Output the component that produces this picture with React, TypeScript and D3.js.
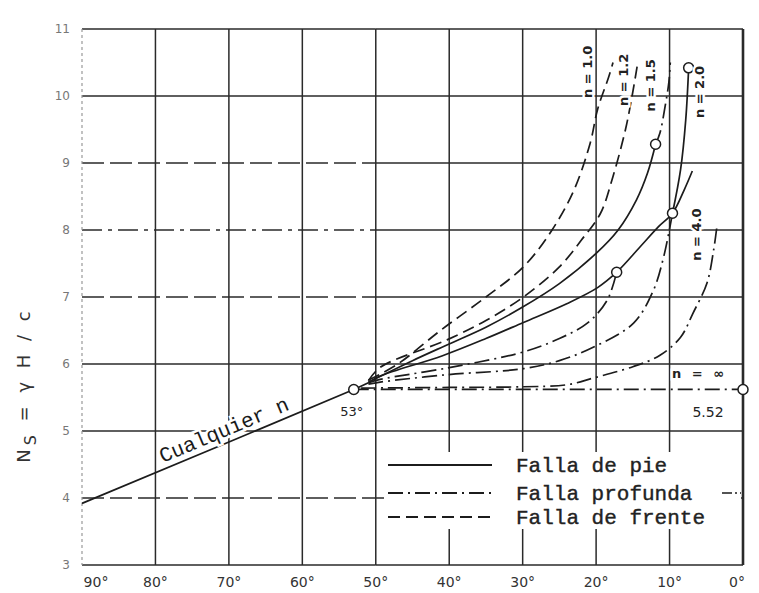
import React from "react";
import * as d3 from "d3";

type P = [number, number];

// axes
const betaTicks = [90, 80, 70, 60, 50, 40, 30, 20, 10, 0];
const nsTicks = [3, 4, 5, 6, 7, 8, 9, 10, 11];

// curves: [beta (deg), Ns]
const anyN: P[] = [[90, 3.92], [53, 5.62], [51, 5.72]];
const nInfBase: P[] = [[53, 5.62], [0, 5.62]];
const n4Base: P[] = [[52, 5.64], [40, 5.65], [30, 5.66], [24, 5.69], [20.4, 5.79], [15, 5.96], [11.3, 6.13], [8.5, 6.4], [6.8, 6.76], [4.9, 7.21], [4.0, 7.7], [3.5, 8.1]];
const n2Base: P[] = [[51, 5.7], [49.4, 5.73], [40.3, 5.84], [29.9, 5.93], [25, 6.05], [20.4, 6.25], [14.9, 6.61], [12.2, 7.1], [10.8, 7.6], [9.6, 8.25]];
const n1Base: P[] = [[51, 5.72], [49.4, 5.77], [40.3, 5.94], [29.9, 6.18], [25, 6.38], [21.2, 6.61], [18.5, 6.95], [17.2, 7.37]];
const toeMain: P[] = [[51, 5.72], [49.4, 5.82], [41, 6.12], [35, 6.38], [29.9, 6.62], [24, 6.9], [19.8, 7.14], [17.2, 7.37], [14, 7.75], [11.5, 8.05], [9.6, 8.25], [8, 8.6], [6.9, 8.88]];
const n2Toe: P[] = [[7.4, 10.42], [7.8, 9.64], [8.5, 8.9], [9.6, 8.25]];
const n15Toe: P[] = [[51, 5.73], [45, 6.05], [40, 6.3], [35, 6.55], [30, 6.85], [25, 7.2], [20, 7.65], [17, 8.0], [14.5, 8.45], [13, 8.85], [11.9, 9.28]];
const n15Base: P[] = [[11.9, 9.28], [11.3, 9.45], [10.6, 9.85], [10.1, 10.2], [9.9, 10.5]];
const n10Face: P[] = [[51, 5.76], [47, 6.0], [41.2, 6.5], [35, 7.0], [29.9, 7.45], [26, 8.0], [23, 8.6], [20.8, 9.3], [19.8, 9.8], [18.3, 10.28], [17.7, 10.5]];
const n12Face: P[] = [[51, 5.75], [49.4, 5.95], [40.3, 6.36], [35, 6.65], [29.9, 7.0], [25, 7.45], [22, 7.85], [19.4, 8.25], [17.7, 8.8], [16, 9.5], [15.1, 10.0], [14.4, 10.45]];
const markers: P[] = [[53, 5.62], [0, 5.62], [11.9, 9.28], [7.4, 10.42], [9.6, 8.25], [17.2, 7.37]];

const nLabels = ["n = 1.0", "n = 1.2", "n = 1.5", "n = 2.0", "n = 4.0"];
const nLabelPos: P[] = [[21.2, 10.36], [16.4, 10.24], [12.6, 10.16], [6.0, 10.06], [6.4, 7.93]];

const legendNames = ["Falla de pie", "Falla profunda", "Falla de frente"];

const W = 759, H = 593;
const x = d3.scaleLinear().domain([90, 0]).range([82, 743]);
const y = d3.scaleLinear().domain([3, 11]).range([565, 29]);

const DASH = { solid: undefined as string | undefined, dashdot: "15,5,2,5", dashed: "12,6" };
const INK = "#1c1c1c";

const line = d3.line<P>().x(d => x(d[0])).y(d => y(d[1])).curve(d3.curveCatmullRom.alpha(0.5));

const curves: { pts: P[]; kind: keyof typeof DASH }[] = [
  { pts: anyN, kind: "solid" },
  { pts: nInfBase, kind: "dashdot" },
  { pts: n4Base, kind: "dashdot" },
  { pts: n2Base, kind: "dashdot" },
  { pts: n1Base, kind: "dashdot" },
  { pts: toeMain, kind: "solid" },
  { pts: n2Toe, kind: "solid" },
  { pts: n15Toe, kind: "solid" },
  { pts: n15Base, kind: "dashdot" },
  { pts: n10Face, kind: "dashed" },
  { pts: n12Face, kind: "dashed" },
];

const gridDash: Record<number, string | undefined> = { 9: "22,6", 8: "20,6,4,6", 7: "22,6", 4: "22,6" };

export default function App() {
  const a0 = anyN[0], a1 = anyN[1];
  const ang = (Math.atan2(y(a1[1]) - y(a0[1]), x(a1[0]) - x(a0[0])) * 180) / Math.PI;
  const tb = 70;
  const tn = a0[1] + ((a0[0] - tb) / (a0[0] - a1[0])) * (a1[1] - a0[1]);
  const legX0 = 388, legX1 = 492;
  const legY = [465, 493, 517];
  const legKinds: (keyof typeof DASH)[] = ["solid", "dashdot", "dashed"];
  const halo = { stroke: "#fff", strokeWidth: 5, paintOrder: "stroke" as const };
  return (
    <div style={{ position: "absolute", left: 0, top: 0 }}>
      <svg width={W} height={H} style={{ display: "block", background: "#fff" }}>
        {/* horizontal grid */}
        {nsTicks.map(v => (
          <g key={"h" + v}>
            <line x1={x(90)} x2={x(50)} y1={y(v)} y2={y(v)} stroke="#2a2a2a" strokeWidth={1.5} strokeDasharray={gridDash[v]} />
            <line x1={x(50)} x2={x(0)} y1={y(v)} y2={y(v)} stroke="#2a2a2a" strokeWidth={1.5} />
          </g>
        ))}
        {/* vertical grid */}
        {betaTicks.map(v => (
          <line key={"v" + v} x1={x(v)} x2={x(v)} y1={y(11)} y2={y(3)}
            stroke={v === 90 ? "#999" : "#2a2a2a"}
            strokeWidth={v === 0 ? 2.6 : v === 90 ? 1.2 : 1.5}
            strokeDasharray={v === 90 ? "3,3" : undefined} />
        ))}
        {/* legend box */}
        <rect x={384} y={452} width={357} height={77} fill="#fff" />
        {legendNames.map((t, i) => (
          <g key={t}>
            <line x1={legX0} x2={legX1} y1={legY[i]} y2={legY[i]} stroke={INK} strokeWidth={1.8} strokeDasharray={DASH[legKinds[i]]} />
            <text x={516} y={legY[i] + 7} fontFamily="Liberation Mono, monospace" fontSize={21} fill="#222" stroke="#222" strokeWidth={0.4}>{t}</text>
          </g>
        ))}
        <line x1={722} x2={741} y1={legY[1]} y2={legY[1]} stroke={INK} strokeWidth={1.6} strokeDasharray="10,3,2,3" />
        {/* curves */}
        {curves.map((c, i) => (
          <path key={"c" + i} d={line(c.pts) || ""} fill="none" stroke={INK} strokeWidth={1.7} strokeDasharray={DASH[c.kind]} />
        ))}
        {markers.map((m, i) => (
          <circle key={"m" + i} cx={x(m[0])} cy={y(m[1])} r={5} fill="#fff" stroke={INK} strokeWidth={1.5} />
        ))}
        {/* y tick labels */}
        {nsTicks.map(v => (
          <text key={"yt" + v} x={70} y={y(v) + 4} textAnchor="end" fontFamily="DejaVu Sans, sans-serif" fontSize={12} fill="#777">{v}</text>
        ))}
        {/* x tick labels */}
        {betaTicks.map(v => (
          <text key={"xt" + v} x={v === 90 ? x(v) + 14 : v === 0 ? x(v) - 6 : x(v)} y={587} textAnchor="middle" fontFamily="DejaVu Sans, sans-serif" fontSize={14} fill="#333">{v + "°"}</text>
        ))}
        {/* y axis title */}
        <text transform="translate(30,385) rotate(-90)" textAnchor="middle" fontFamily="DejaVu Sans, sans-serif" fontSize={18} fill="#333" letterSpacing={4}>
          <tspan>N</tspan>
          <tspan dy={6} fontSize={16}>S</tspan>
          <tspan dy={-6}>{" = γ H / c"}</tspan>
        </text>
        {/* curve labels */}
        <text transform={`translate(${x(tb)},${y(tn)}) rotate(${ang})`} y={-6} textAnchor="middle" fontFamily="Liberation Mono, monospace" fontSize={21} fill="#1a1a1a" style={halo}>Cualquier n</text>
        {nLabels.map((t, i) => (
          <text key={t} transform={`translate(${x(nLabelPos[i][0])},${y(nLabelPos[i][1])}) rotate(-90)`} textAnchor="middle" dy={5} fontFamily="DejaVu Sans, sans-serif" fontSize={13} fontWeight="bold" fill="#222" style={halo}>{t}</text>
        ))}
        <text x={x(53) - 2} y={y(5.62) + 27} textAnchor="middle" fontFamily="DejaVu Sans, sans-serif" fontSize={13} fill="#222">53°</text>
        <text x={708} y={y(5.62) + 28} textAnchor="middle" fontFamily="DejaVu Sans, sans-serif" fontSize={14} fill="#222">5.52</text>
        <text x={672} y={y(5.62) - 11} fontFamily="DejaVu Sans, sans-serif" fontSize={13} fontWeight="bold" fill="#222" letterSpacing={3} style={halo}>n = ∞</text>
      </svg>
    </div>
  );
}
